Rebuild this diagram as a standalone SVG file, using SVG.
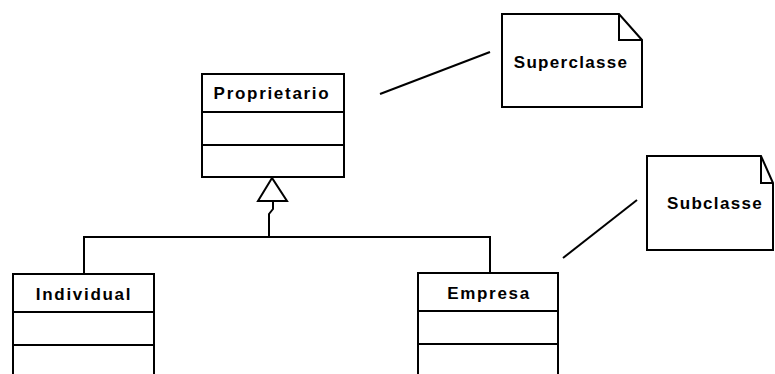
<svg xmlns="http://www.w3.org/2000/svg" width="775" height="374" viewBox="0 0 775 374">
<style>
.box{fill:#fff;stroke:#000;stroke-width:2}
.ln{fill:none;stroke:#000;stroke-width:2}
.lbl{font-family:"Liberation Sans",Arial,sans-serif;font-weight:bold;font-size:17px;letter-spacing:1.7px;text-anchor:middle;fill:#000}
.note{font-family:"Liberation Sans",Arial,sans-serif;font-weight:bold;font-size:17px;letter-spacing:1.3px;text-anchor:middle;fill:#000}
</style>
<rect width="775" height="374" fill="#fff"/>
<g id="connectors">
<polyline class="ln" points="84,274 84,237 490,237 490,273"/>
<polyline class="ln" points="269,237 269,214 273,209 273,201"/>
<polygon class="box" points="272,178 258,201 287,201"/>
<line class="ln" x1="380" y1="94" x2="490" y2="52"/>
<line class="ln" x1="563" y1="258" x2="637" y2="200"/>
</g>
<g id="proprietario">
<rect class="box" x="202" y="74" width="142" height="103"/>
<line class="ln" x1="202" y1="112" x2="344" y2="112"/>
<line class="ln" x1="202" y1="145" x2="344" y2="145"/>
<text class="lbl" x="272" y="99">Proprietario</text>
</g>
<g id="individual">
<rect class="box" x="13" y="274" width="141" height="110"/>
<line class="ln" x1="13" y1="312" x2="154" y2="312"/>
<line class="ln" x1="13" y1="345" x2="154" y2="345"/>
<text class="lbl" x="84" y="300">Individual</text>
</g>
<g id="empresa">
<rect class="box" x="418" y="273" width="140" height="110"/>
<line class="ln" x1="418" y1="311" x2="558" y2="311"/>
<line class="ln" x1="418" y1="344" x2="558" y2="344"/>
<text class="lbl" x="489" y="299">Empresa</text>
</g>
<g id="superclasse">
<path class="box" d="M502,14 H619 L642,40 V107 H502 Z"/>
<path class="ln" d="M619,14 V40 H642"/>
<text class="note" x="571" y="68">Superclasse</text>
</g>
<g id="subclasse">
<path class="box" d="M647,156 H761 L773,183 V250 H647 Z"/>
<path class="ln" d="M761,156 V183 H773"/>
<text class="note" x="715" y="209">Subclasse</text>
</g>
</svg>
